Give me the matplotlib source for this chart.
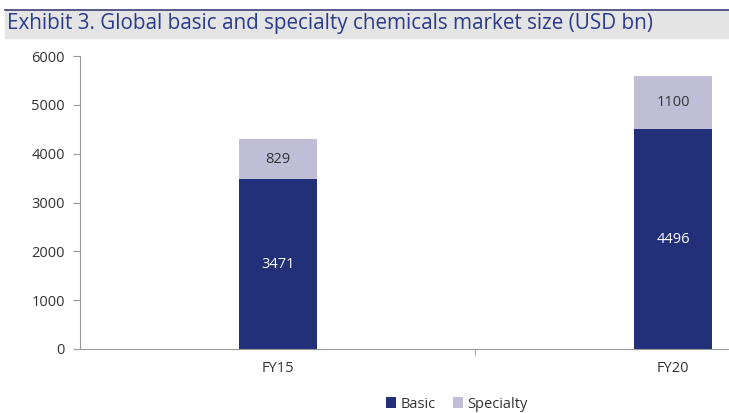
import matplotlib.pyplot as plt
import matplotlib.patches as mpatches
import numpy as np

# data
years = ["FY15", "FY20"]
basic = [3471, 4496]
specialty = [829, 1100]

navy = "#22307a"
lilac = "#c0bed6"
text_col = "#333333"

plt.rcParams['font.family'] = ['Open Sans', 'DejaVu Sans']

fig = plt.figure(figsize=(7.29, 4.13), dpi=100)
W, H = 729, 413

# title band
fig.patches.append(mpatches.Rectangle((5 / W, 1 - 38 / H), 1 - 5 / W, 28 / H,
                                      transform=fig.transFigure, color="#e4e4e4", zorder=0))
fig.add_artist(plt.Line2D([5 / W, 1], [1 - 10 / H, 1 - 10 / H], transform=fig.transFigure,
                          color="#3a3f7a", linewidth=1.2))
fig.text(7 / W, 1 - 23 / H, "Exhibit 3. Global basic and specialty chemicals market size (USD bn)",
         fontsize=14.9, color="#2b3a8c", va="center", ha="left")

ax = fig.add_axes([80 / W, (H - 349) / H, 1 - 80 / W, (349 - 56) / H])
x = np.arange(len(years))
w = 0.197
b1 = ax.bar(x, basic, width=w, color=navy, label="Basic")
b2 = ax.bar(x, specialty, width=w, bottom=basic, color=lilac, label="Specialty")

# value labels inside the segments
for i in range(len(years)):
    ax.text(x[i], basic[i] / 2, str(basic[i]), ha="center", va="center", color="white", fontsize=10.5)
    ax.text(x[i], basic[i] + specialty[i] / 2, str(specialty[i]), ha="center", va="center",
            color=text_col, fontsize=10.5)

ax.set_xlim(-0.5, (729 - 278) / 395)
ax.set_ylim(0, 6000)
ax.set_yticks(range(0, 6001, 1000))
ax.set_xticks(x)
ax.set_xticklabels(years)
ax.set_xticks([0.5], minor=True)
ax.tick_params(axis="x", which="major", length=0, pad=9, labelsize=10.5, labelcolor=text_col)
ax.tick_params(axis="x", which="minor", length=5, color="#999999", direction="out")
ax.tick_params(axis="y", length=5, color="#999999", labelsize=10.5, labelcolor=text_col, pad=6)
for s in ["top", "right"]:
    ax.spines[s].set_visible(False)
ax.spines["left"].set_color("#999999")
ax.spines["bottom"].set_color("#999999")

fig.legend(handles=[b1, b2], labels=["Basic", "Specialty"], loc="center",
           bbox_to_anchor=(457 / W, 1 - 404 / H), ncol=2, frameon=False, fontsize=10.5,
           handlelength=0.7, handleheight=0.7, handletextpad=0.3, columnspacing=1.2,
           labelcolor=text_col)

fig.savefig("out.png", dpi=100)
